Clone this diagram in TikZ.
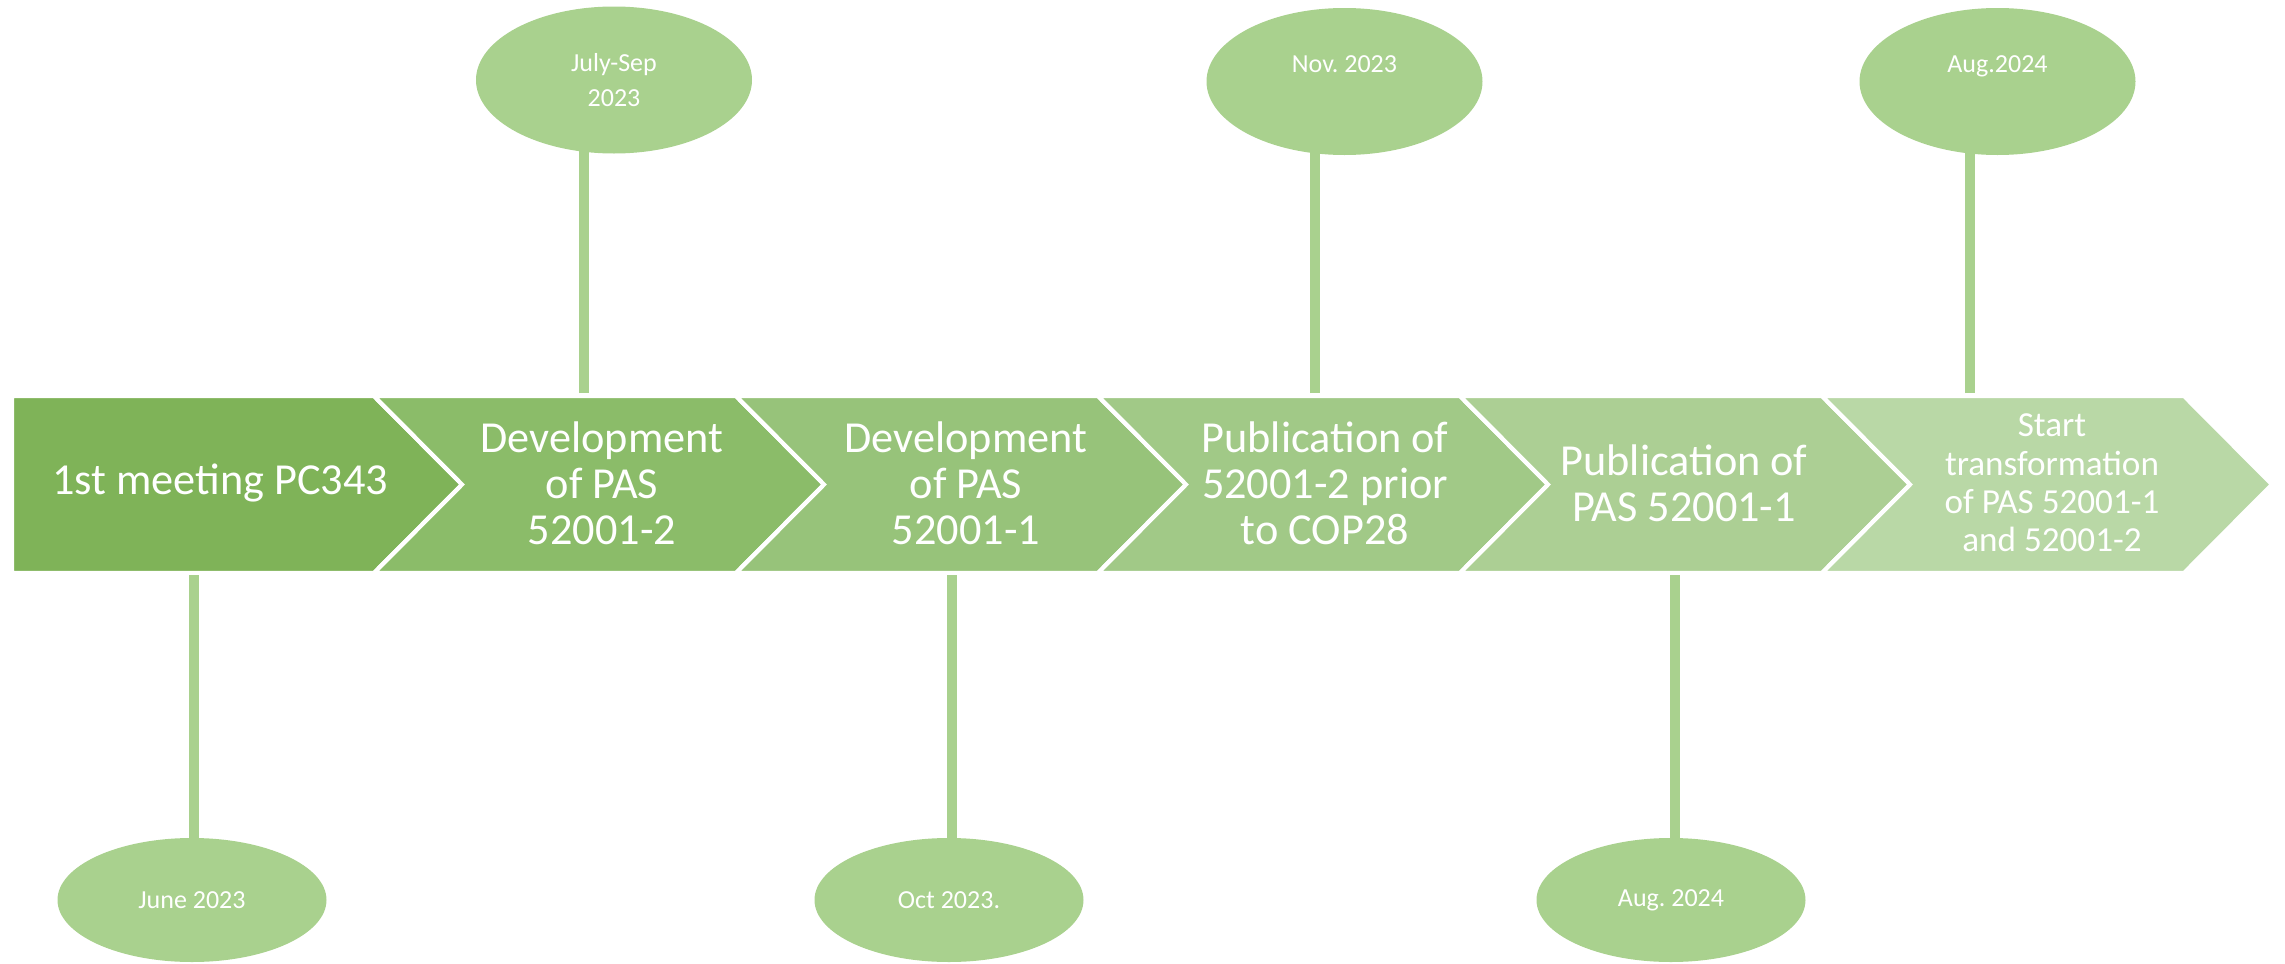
\documentclass[tikz,border=0pt]{standalone}
\usepackage{fontspec}
\setmainfont{Carlito}
\frenchspacing
\usetikzlibrary{shapes.geometric}
\definecolor{stageA}{HTML}{7FB358}
\definecolor{stageB}{HTML}{8BBC69}
\definecolor{stageC}{HTML}{97C37A}
\definecolor{stageD}{HTML}{A1C987}
\definecolor{stageE}{HTML}{ACCF94}
\definecolor{stageF}{HTML}{B9D8A6}
\definecolor{dategreen}{HTML}{A9D18E}

\begin{document}
\begin{tikzpicture}[
    chevron/.style={
            insert path={++(0,0.885) -- ++(3.62,0) -- ++(0.88,-0.885)
                    -- ++(-0.88,-0.885) -- ++(-3.62,0) -- ++(#1,0.885) -- cycle}
        },
    chevron/.default=0.88,
    band/.style={draw=white,line width=1.2pt},
    stage/.style={text=white,align=center,font=\fontsize{12.6}{13.1}\selectfont},
    datebox/.style={ellipse,fill=dategreen,inner sep=0pt,text=white,align=center,
            font=\fontsize{7.4}{9.9}\selectfont},
    stalk/.style={draw=dategreen,line width=3.1pt}]
    \useasboundingbox (0,0) rectangle (22.85,9.63);
    % arrow band
    \filldraw[band,fill=stageA] (0.12,4.785) [chevron=0] ;
    \filldraw[band,fill=stageB] (3.74,4.785) [chevron] ;
    \filldraw[band,fill=stageC] (7.36,4.785) [chevron] ;
    \filldraw[band,fill=stageD] (10.98,4.785) [chevron] ;
    \filldraw[band,fill=stageE] (14.60,4.785) [chevron] ;
    \filldraw[band,fill=stageF] (18.22,4.785) [chevron] ;
    \node[stage] (meet) at (2.20,4.80) {1st meeting PC343};
    \node[stage] (devtwo) at (6.02,4.80) {Development\\of PAS\\52001-2};
    \node[stage] (devone) at (9.66,4.80) {Development\\of PAS\\52001-1};
    \node[stage] (pubtwo) at (13.25,4.80) {Publication of\\52001-2 prior\\to COP28};
    \node[stage] (pubone) at (16.84,4.80) {Publication of\\PAS 52001-1};
    \node[stage,font=\fontsize{10}{10.9}\selectfont] (start) at (20.52,4.80)
        {Start\\transformation\\of PAS 52001-1\\and 52001-2};
    % dates above
    \node[datebox,minimum width=2.76cm,minimum height=1.47cm] (jul) at (6.14,8.83) {July-Sep\\2023};
    \node[datebox,minimum width=2.76cm,minimum height=1.47cm] (nov) at (13.445,8.815) {Nov. 2023\\\mbox{}};
    \node[datebox,minimum width=2.76cm,minimum height=1.47cm] (augtop) at (19.975,8.815) {Aug.2024\\\mbox{}};
    \coordinate (ptwo) at (5.84,5.70);
    \coordinate (pfour) at (13.15,5.70);
    \coordinate (psix) at (19.70,5.70);
    \draw[stalk] (ptwo) -- ([yshift=4pt]ptwo |- jul.south);
    \draw[stalk] (pfour) -- ([yshift=4pt]pfour |- nov.south);
    \draw[stalk] (psix) -- ([yshift=4pt]psix |- augtop.south);
    % dates below
    \node[datebox,minimum width=2.69cm,minimum height=1.24cm] (jun) at (1.92,0.63) {June 2023};
    \node[datebox,minimum width=2.69cm,minimum height=1.24cm] (oct) at (9.49,0.63) {Oct 2023.};
    \node[datebox,minimum width=2.69cm,minimum height=1.24cm] (augbot) at (16.71,0.63) {Aug. 2024};
    \coordinate (qone) at (1.94,3.88);
    \coordinate (qthree) at (9.52,3.88);
    \coordinate (qfive) at (16.75,3.88);
    \draw[stalk] (qone) -- ([yshift=-4pt]qone |- jun.north);
    \draw[stalk] (qthree) -- ([yshift=-4pt]qthree |- oct.north);
    \draw[stalk] (qfive) -- ([yshift=-4pt]qfive |- augbot.north);
\end{tikzpicture}
\end{document}
